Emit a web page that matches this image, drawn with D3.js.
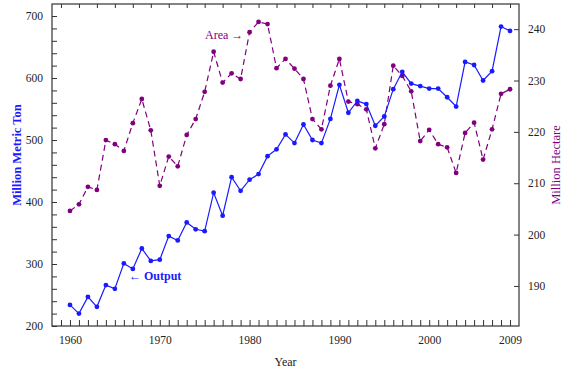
<!DOCTYPE html>
<html>
<head>
<meta charset="utf-8">
<script src="https://cdn.jsdelivr.net/npm/d3@7"></script>
<style>
  html, body { margin: 0; padding: 0; background: #fff; }
  svg { display: block; }
  text { font-family: "Liberation Serif", "Times New Roman", serif; }
</style>
</head>
<body>
<svg id="chart" width="567" height="373"></svg>
<script>
// Rice output (million metric tons) and harvested area (million hectares), 1960-2009
const years = d3.range(1960, 2010);
const output = [234, 220, 247, 231, 266, 260, 301, 292, 325, 305,
                307, 345, 338, 367, 356, 353, 415, 378, 440, 418,
                436, 445, 474, 485, 509, 495, 525, 500, 495, 534,
                589, 544, 563, 558, 523, 538, 582, 610, 591, 587,
                583, 583, 569, 554, 626, 621, 596, 611, 683, 676];
const area = [204.6, 205.9, 209.3, 208.7, 218.4, 217.6, 216.3, 221.7, 226.4, 220.3,
              209.5, 215.2, 213.3, 219.4, 222.5, 227.8, 235.6, 229.6, 231.4, 230.3,
              239.4, 241.4, 241.0, 232.4, 234.2, 232.3, 230.3, 222.5, 220.5, 229.0,
              234.2, 225.9, 225.4, 224.4, 216.8, 221.5, 232.9, 230.9, 227.9, 218.2,
              220.4, 217.6, 217.0, 212.0, 219.8, 221.8, 214.6, 220.5, 227.4, 228.3];
const yearTicks = [1960, 1970, 1980, 1990, 2000, 2009];
const leftTicks = [200, 300, 400, 500, 600, 700];
const rightTicks = [190, 200, 210, 220, 230, 240];

const blue = "#1a1aff";
const purple = "#800080";
const frame = "#333";

const svg = d3.select("#chart");
const L = 52, R = 519, T = 4, B = 326;

const x = d3.scaleLinear().domain([1958, 2010]).range([L, R]);
const yL = d3.scaleLinear().domain([200, 719.4]).range([B, T]);
const yR = d3.scaleLinear().domain([182.2, 244.9]).range([B, T]);

// frame
svg.append("rect").attr("x", L).attr("y", T).attr("width", R - L).attr("height", B - T)
  .attr("fill", "none").attr("stroke", frame).attr("stroke-width", 1.2);

function styleAxis(g) {
  g.select(".domain").remove();
  g.selectAll("line").attr("stroke", frame).attr("stroke-width", 1);
  g.selectAll("text").attr("font-size", "11.5px").attr("fill", "#222")
    .attr("font-family", '"Liberation Serif", serif');
}

// bottom axis: tick every year, labels on selected years
const axBottom = svg.append("g").attr("transform", `translate(0,${B})`)
  .call(d3.axisBottom(x).tickValues(d3.range(1959, 2010)).tickSize(-6).tickPadding(10)
    .tickFormat(d => yearTicks.includes(d) ? d : ""));
styleAxis(axBottom);

// top axis: ticks every other year
const axTop = svg.append("g").attr("transform", `translate(0,${T})`)
  .call(d3.axisTop(x).tickValues(d3.range(1959, 2010, 2)).tickSize(-4).tickFormat(""));
styleAxis(axTop);

// left axis with minor ticks every 20
const axLeft = svg.append("g").attr("transform", `translate(${L},0)`)
  .call(d3.axisLeft(yL).tickValues(d3.range(200, 720, 20)).tickSize(-5).tickPadding(9)
    .tickFormat(d => leftTicks.includes(d) ? d : ""));
styleAxis(axLeft);

// right axis
const axRight = svg.append("g").attr("transform", `translate(${R},0)`)
  .call(d3.axisRight(yR).tickValues(rightTicks).tickSize(-5).tickPadding(9));
styleAxis(axRight);

// area series (dashed, right scale)
const areaData = years.map((yr, i) => ({ yr, v: area[i] }));
svg.append("path").datum(areaData)
  .attr("fill", "none").attr("stroke", purple).attr("stroke-width", 1.2)
  .attr("stroke-dasharray", "6,4")
  .attr("d", d3.line().x(d => x(d.yr)).y(d => yR(d.v)));
svg.append("g").selectAll("circle").data(areaData).join("circle")
  .attr("cx", d => x(d.yr)).attr("cy", d => yR(d.v)).attr("r", 2.4).attr("fill", purple);

// output series (solid, left scale)
const outData = years.map((yr, i) => ({ yr, v: output[i] }));
svg.append("path").datum(outData)
  .attr("fill", "none").attr("stroke", blue).attr("stroke-width", 1.2)
  .attr("d", d3.line().x(d => x(d.yr)).y(d => yL(d.v)));
svg.append("g").selectAll("circle").data(outData).join("circle")
  .attr("cx", d => x(d.yr)).attr("cy", d => yL(d.v)).attr("r", 2.4).attr("fill", blue);

// annotations
svg.append("text").attr("x", 205).attr("y", 39).attr("font-size", "12px")
  .attr("fill", purple).text("Area \u2192");
svg.append("text").attr("x", 129).attr("y", 280).attr("font-size", "12px")
  .attr("font-weight", "bold").attr("fill", blue).text("\u2190 Output");

// axis titles
svg.append("text").attr("x", (L + R) / 2).attr("y", 366).attr("text-anchor", "middle")
  .attr("font-size", "12px").attr("fill", "#222").text("Year");
svg.append("text").attr("transform", "translate(21,155) rotate(-90)")
  .attr("text-anchor", "middle").attr("font-size", "12.5px").attr("font-weight", "bold")
  .attr("fill", blue).text("Million Metric Ton");
svg.append("text").attr("transform", "translate(560,165) rotate(-90)")
  .attr("text-anchor", "middle").attr("font-size", "12.5px")
  .attr("fill", purple).text("Million Hectare");
</script>
</body>
</html>
